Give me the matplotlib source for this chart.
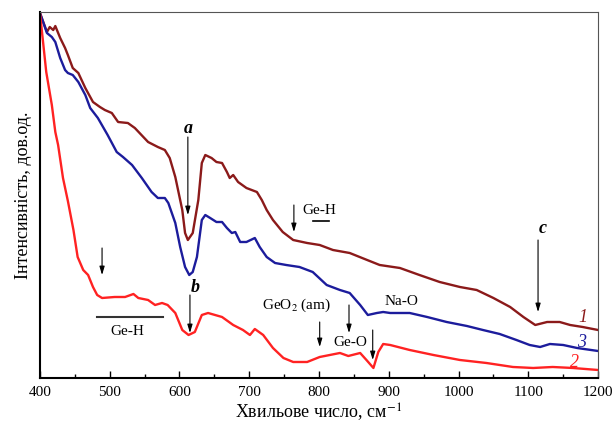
import matplotlib
matplotlib.use('Agg')
import matplotlib.pyplot as plt
from matplotlib.ticker import MultipleLocator

plt.rcParams['font.family'] = ['Liberation Serif', 'DejaVu Serif']
plt.rcParams['mathtext.fontset'] = 'stix'

# Curve 1 (dark red)
wn1 = [400, 410, 414, 419, 422, 429, 436, 440, 447, 455, 465, 476, 486, 493, 503, 512, 526, 536,
       555, 569, 579, 586, 594, 604, 608, 612, 619, 627, 632, 637, 646, 653, 661, 668, 672, 677,
       684, 696, 711, 718, 725, 734, 748, 763, 783, 801, 820, 844, 869, 887, 916, 944, 973, 1002,
       1026, 1050, 1074, 1093, 1110, 1127, 1145, 1160, 1178, 1200]
int1 = [365, 346, 351, 348, 352, 340, 330, 323, 310, 305, 290, 276, 271, 268, 265, 256, 255, 250,
        236, 231, 228, 220, 201, 168, 145, 138, 145, 178, 215, 223, 220, 216, 215, 206, 200, 203,
        196, 190, 186, 178, 168, 158, 146, 138, 135, 133, 128, 125, 118, 113, 110, 103, 96, 91,
        88, 80, 71, 61, 53, 56, 56, 53, 51, 48]

# Curve 3 (blue)
wn3 = [400, 410, 417, 422, 429, 436, 440, 447, 455, 465, 472, 483, 497, 510, 519, 532, 546, 560,
       569, 579, 584, 594, 601, 608, 614, 619, 625, 632, 637, 644, 653, 661, 668, 675, 680, 687,
       696, 708, 715, 725, 737, 753, 772, 791, 811, 830, 844, 859, 870, 883, 892, 902, 930, 955,
       983, 1012, 1035, 1059, 1083, 1102, 1117, 1131, 1150, 1170, 1200]
int3 = [365, 345, 341, 336, 320, 308, 305, 303, 296, 283, 270, 260, 243, 226, 221, 213, 200, 186,
        180, 180, 175, 155, 131, 111, 103, 106, 121, 158, 163, 160, 156, 156, 150, 145, 146, 136,
        136, 140, 131, 121, 115, 113, 111, 106, 93, 88, 85, 73, 63, 65, 66, 65, 65, 61,
        56, 52, 48, 44, 38, 33, 31, 34, 33, 30, 27]

# Curve 2 (red)
wn2 = [400, 409, 417, 422, 426, 433, 440, 448, 454, 462, 469, 476, 482, 489, 507, 522, 534, 541,
       555, 565, 575, 583, 594, 604, 613, 622, 632, 641, 661, 677, 691, 701, 708, 720, 734, 749,
       763, 783, 801, 830, 842, 859, 868, 878, 885, 892, 902, 930, 964, 1002, 1040, 1078, 1107,
       1135, 1164, 1200]
int2 = [365, 306, 273, 246, 233, 200, 177, 148, 121, 108, 103, 91, 83, 80, 81, 81, 84, 80,
        78, 73, 75, 73, 65, 48, 43, 46, 63, 65, 61, 53, 48, 43, 49, 43, 30, 20,
        16, 16, 21, 25, 22, 25, 18, 10, 26, 34, 33, 28, 23, 18, 15, 11, 10,
        11, 10, 8]

fig = plt.figure(figsize=(6.14, 4.26), dpi=100)
ax = fig.add_axes([0.0651, 0.1127, 0.9089, 0.8591])

ax.plot(wn1, int1, color='#8b1a1a', lw=1.7)
ax.plot(wn3, int3, color='#1c1c9c', lw=1.7)
ax.plot(wn2, int2, color='#ff2222', lw=1.7)

ax.set_xlim(400, 1200)
ax.set_ylim(0, 366)
ax.xaxis.set_major_locator(MultipleLocator(100))
ax.xaxis.set_minor_locator(MultipleLocator(50))
ax.tick_params(axis='x', which='both', direction='in', labelsize=11, pad=6)
ax.tick_params(axis='x', which='major', length=5, width=1)
ax.tick_params(axis='x', which='minor', length=3, width=1)
ax.set_yticks([])
ax.spines['left'].set_linewidth(1.5)
ax.spines['bottom'].set_linewidth(1.5)
for s in ['top', 'right']:
    ax.spines[s].set_color('#555555')

ax.set_xlabel('Хвильове число, см$^{-1}$', fontsize=13, labelpad=1)
ax.set_ylabel('Інтенсивність, дов.од.', fontsize=13, labelpad=6)

arr = dict(arrowstyle='-|>,head_length=0.5,head_width=0.15', color='black', lw=0.8,
           shrinkA=0, shrinkB=0)

def down_arrow(x, y0, y1):
    ax.annotate('', xy=(x, y1), xytext=(x, y0), arrowprops=arr)

# a
ax.text(612, 250, 'a', fontsize=13, fontweight='bold', style='italic', ha='center', va='center')
down_arrow(612, 241, 163)
# b
ax.text(622, 90, 'b', fontsize=13, fontweight='bold', style='italic', ha='center', va='center')
down_arrow(615, 83, 45)
# c
ax.text(1121, 149, 'c', fontsize=13, fontweight='bold', style='italic', ha='center', va='center')
down_arrow(1114, 138, 66)

# Ge-H (upper)
ax.text(801, 168, 'Ge-H', fontsize=11, ha='center', va='center')
down_arrow(764, 173, 146)
ax.plot([791, 814], [157, 157], color='black', lw=1.2)

# Ge-H (lower)
down_arrow(489, 130, 103)
ax.plot([482, 576], [61, 61], color='#333333', lw=1.5)
ax.text(525, 46, 'Ge-H', fontsize=11, ha='center', va='center')

# GeO2 (am)
ax.text(768, 73, 'GeO$_{2}$ (am)', fontsize=11, ha='center', va='center')
down_arrow(801, 56, 31)

# Ge-O
ax.text(845, 35, 'Ge-O', fontsize=11, ha='center', va='center')
down_arrow(843, 73, 45)
down_arrow(877, 48, 18)

# Na-O
ax.text(918, 76, 'Na-O', fontsize=11, ha='center', va='center')

# curve numbers
ax.text(1178, 60, '1', fontsize=13, style='italic', color='#8b1a1a', ha='center', va='center')
ax.text(1176, 35, '3', fontsize=13, style='italic', color='#1c1c9c', ha='center', va='center')
ax.text(1166, 15, '2', fontsize=13, style='italic', color='#ff2222', ha='center', va='center')

fig.savefig('out.png', dpi=100)
